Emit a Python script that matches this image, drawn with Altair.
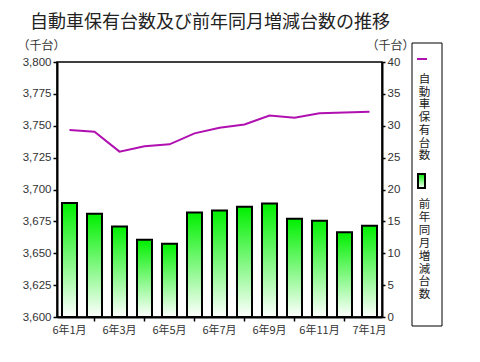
import altair as alt
import pandas as pd

months = ["6年1月", "6年2月", "6年3月", "6年4月", "6年5月", "6年6月", "6年7月",
          "6年8月", "6年9月", "6年10月", "6年11月", "6年12月", "7年1月"]
holdings = [3746.7, 3745.3, 3729.7, 3734.0, 3735.4, 3744.0, 3748.5,
            3751.0, 3758.0, 3756.3, 3759.8, 3760.3, 3761.0]
yoy = [17.9, 16.2, 14.2, 12.1, 11.5, 16.4, 16.7, 17.3, 17.8, 15.4, 15.1, 13.3, 14.3]
labeled = ["6年1月", "6年3月", "6年5月", "6年7月", "6年9月", "6年11月", "7年1月"]
left_ticks = [3600, 3625, 3650, 3675, 3700, 3725, 3750, 3775, 3800]
right_ticks = [0, 5, 10, 15, 20, 25, 30, 35, 40]

title_text = "自動車保有台数及び前年同月増減台数の推移"
unit_text = "（千台）"
legend_line = "自動車保有台数"
legend_bar = "前年同月増減台数"

CJK = "Noto Sans CJK JP"
NUM = "Liberation Sans"
PURPLE = "#b010b0"

df = pd.DataFrame({"month": months, "holdings": holdings, "yoy": yoy})
one = pd.DataFrame({"k": [0]})

lab_list = "[" + ",".join("'" + m + "'" for m in labeled) + "]"

green = alt.Gradient(
    gradient="linear",
    stops=[alt.GradientStop(color="#00f000", offset=0),
           alt.GradientStop(color="#ffffff", offset=1)],
    x1=0, x2=0, y1=0, y2=1,
)

x_enc = alt.X(
    "month:N", sort=months,
    scale=alt.Scale(paddingInner=0.4, paddingOuter=0.2),
    axis=alt.Axis(
        title=None, labelAngle=0, labelFont=CJK, labelFontSize=11,
        labelColor="#333333", labelPadding=3, tickSize=4, tickWidth=1.5,
        tickColor="black", domainColor="black", domainWidth=2,
        labelExpr=f"indexof({lab_list}, datum.value) >= 0 ? datum.value : ''",
        tickOpacity={"condition": {"test": f"indexof({lab_list}, datum.value) < 0", "value": 1}, "value": 0},
    ),
)

bars = alt.Chart(df).mark_bar(fill=green, stroke="black", strokeWidth=2).encode(
    x=x_enc,
    y=alt.Y("yoy:Q", scale=alt.Scale(domain=[0, 40], nice=False),
            axis=alt.Axis(orient="right", values=right_ticks, format="d", title=unit_text,
                          titleAngle=0, titleX=8, titleY=-13, titleAlign="center",
                          titleBaseline="alphabetic", titleFont=CJK, titleFontSize=12,
                          titleFontWeight="normal", titleColor="#333333",
                          labelFont=NUM, labelFontSize=11.5, labelColor="#333333",
                          labelPadding=2, tickSize=3, tickWidth=1.5, tickColor="black",
                          domainColor="black", domainWidth=2, grid=False)),
)

line = alt.Chart(df).mark_line(color=PURPLE, strokeWidth=2).encode(
    x=x_enc,
    y=alt.Y("holdings:Q", scale=alt.Scale(domain=[3600, 3800], nice=False),
            axis=alt.Axis(orient="left", values=left_ticks, format=",.0f", title=unit_text,
                          titleAngle=0, titleX=-16, titleY=-13, titleAlign="center",
                          titleBaseline="alphabetic", titleFont=CJK, titleFontSize=12,
                          titleFontWeight="normal", titleColor="#333333",
                          labelFont=NUM, labelFontSize=11.5, labelColor="#333333",
                          labelPadding=2, tickSize=4, tickWidth=1.5, tickColor="black",
                          domainColor="black", domainWidth=2, grid=False)),
)

title = alt.Chart(one).mark_text(
    text=title_text, font=CJK, fontSize=18, align="left", baseline="alphabetic", color="#222222"
).encode(x=alt.value(-27), y=alt.value(-34))

leg_box = alt.Chart(one).mark_rect(fill="white", stroke="black", strokeWidth=1).encode(
    x=alt.value(355), x2=alt.value(385), y=alt.value(-19), y2=alt.value(264))
leg_rule = alt.Chart(one).mark_rule(color=PURPLE, strokeWidth=2).encode(
    x=alt.value(360), x2=alt.value(370), y=alt.value(-3))
leg_sym = alt.Chart(one).mark_rect(fill=green, stroke="black", strokeWidth=2).encode(
    x=alt.value(361), x2=alt.value(368), y=alt.value(112), y2=alt.value(126))
leg_t1 = alt.Chart(one).mark_text(
    text="\n".join(legend_line), lineBreak="\n", font=CJK, fontSize=11.5, lineHeight=12.7,
    align="center", baseline="top", color="#222222"
).encode(x=alt.value(367.5), y=alt.value(12))
leg_t2 = alt.Chart(one).mark_text(
    text="\n".join(legend_bar), lineBreak="\n", font=CJK, fontSize=11.5, lineHeight=12.9,
    align="center", baseline="top", color="#222222"
).encode(x=alt.value(367.5), y=alt.value(137))

chart = alt.layer(bars, line, title, leg_box, leg_rule, leg_sym, leg_t1, leg_t2).resolve_scale(
    y="independent"
).properties(
    width=325, height=255,
    autosize=alt.AutoSizeParams(type="none"),
    padding={"left": 49, "top": 54, "right": 80, "bottom": 30},
    background="white",
).configure_view(stroke="black", strokeWidth=1.5)

chart.save("out.html", embed_options={"renderer": "svg", "actions": False})
